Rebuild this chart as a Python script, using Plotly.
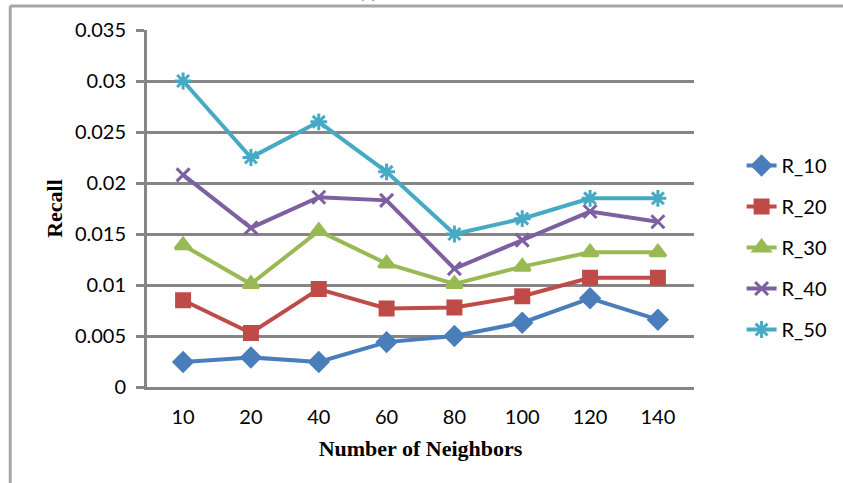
import plotly.graph_objects as go

neighbors = ["10", "20", "40", "60", "80", "100", "120", "140"]
r_10 = [0.00245, 0.0029, 0.00245, 0.0044, 0.0050, 0.0063, 0.0087, 0.0066]
r_20 = [0.0085, 0.0053, 0.0096, 0.0077, 0.0078, 0.0089, 0.0107, 0.0107]
r_30 = [0.0139, 0.0101, 0.0153, 0.0121, 0.0101, 0.0118, 0.0132, 0.0132]
r_40 = [0.0208, 0.0156, 0.0186, 0.0183, 0.0116, 0.0144, 0.0172, 0.0162]
r_50 = [0.0300, 0.0225, 0.0260, 0.0211, 0.0150, 0.0165, 0.0185, 0.0185]
y_ticks = [0, 0.005, 0.01, 0.015, 0.02, 0.025, 0.03, 0.035]
y_tick_text = ["0", "0.005", "0.01", "0.015", "0.02", "0.025", "0.03", "0.035"]

series = [
    ("R_10", r_10, "#4a7ebb", dict(symbol="diamond", size=14)),
    ("R_20", r_20, "#be4b48", dict(symbol="square", size=13)),
    ("R_30", r_30, "#98b954", dict(symbol="triangle-up", size=14)),
    ("R_40", r_40, "#7d60a0", dict(symbol="x-thin-open", size=13)),
    ("R_50", r_50, "#46aac5", dict(symbol="asterisk-open", size=14)),
]

fig = go.Figure()
for name, vals, color, mk in series:
    marker = dict(color=color, line=dict(color=color, width=3), **mk)
    fig.add_trace(go.Scatter(
        x=neighbors, y=vals, name=name, legendgroup=name,
        mode="lines+markers",
        line=dict(color=color, width=4),
        marker=marker,
    ))

grid = "#868686"
tick_font = dict(family="Lato", size=20, color="black")
title_font = dict(family="Liberation Serif", size=22, color="black")

fig.update_layout(
    width=843, height=483,
    margin=dict(l=147, r=148, t=30, b=96),
    paper_bgcolor="white", plot_bgcolor="white",
    showlegend=True,
    legend=dict(
        x=1.085, y=0.675, xanchor="left", yanchor="top",
        font=tick_font,
        traceorder="grouped", tracegroupgap=12,
        bgcolor="rgba(0,0,0,0)",
    ),
    xaxis=dict(
        type="category",
        showgrid=False, zeroline=False,
        showline=True, linecolor=grid, linewidth=3,
        ticks="", tickfont=tick_font, ticklabelstandoff=10,
        title=dict(text="<b>Number of Neighbors</b>", standoff=14, font=title_font),
    ),
    yaxis=dict(
        range=[0, 0.035], tickvals=y_ticks, ticktext=y_tick_text,
        showgrid=True, gridcolor=grid, gridwidth=3,
        zeroline=False,
        showline=True, linecolor=grid, linewidth=3,
        ticks="outside", ticklen=8, tickwidth=3, tickcolor=grid,
        tickfont=tick_font, ticklabelstandoff=6,
        title=dict(text="<b>Recall</b>", standoff=7, font=title_font),
    ),
    shapes=[
        dict(type="line", xref="paper", yref="paper",
             x0=(10 - 147) / 548, x1=(10 - 147) / 548, y0=(387 - 6) / 357, y1=-0.3,
             line=dict(color="#a6a6a6", width=3)),
        dict(type="line", xref="paper", yref="paper",
             x0=(10 - 147) / 548, x1=1.3, y0=(387 - 6) / 357, y1=(387 - 6) / 357,
             line=dict(color="#a6a6a6", width=3)),
    ],
    annotations=[
        dict(text="(a)", xref="paper", yref="paper",
             x=(368 - 147) / 548, y=(387 - 4) / 357, xanchor="center", yanchor="bottom",
             showarrow=False, font=dict(family="Liberation Serif", size=18, color="black")),
    ],
)

fig.write_html("out.html")
